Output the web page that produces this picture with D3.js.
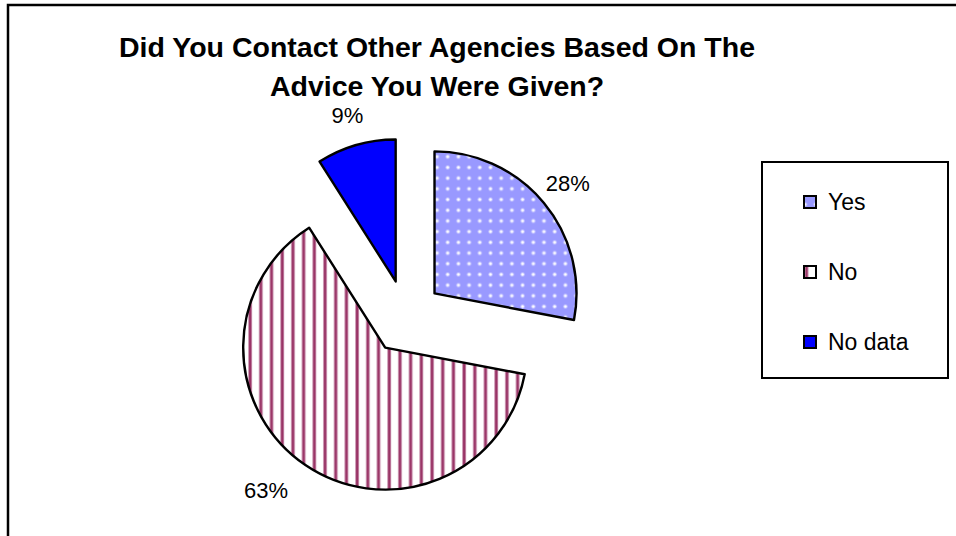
<!DOCTYPE html>
<html>
<head>
<meta charset="utf-8">
<script src="https://cdn.jsdelivr.net/npm/d3@7"></script>
<style>
  html, body { margin: 0; padding: 0; background: #fff; }
  svg { display: block; font-family: "Liberation Sans", Arial, sans-serif; }
</style>
</head>
<body>
<svg id="chart" width="956" height="536"></svg>
<script>
// Survey answers and their shares (percent)
const categories = ["Yes", "No", "No data"];
const shares = [28, 63, 9];
const titleLines = ["Did You Contact Other Agencies Based On The", "Advice You Were Given?"];
const fills = ["url(#dots)", "url(#stripes)", "#0000ff"];

const svg = d3.select("#chart");
const defs = svg.append("defs");

// Dotted lavender fill
const dots = defs.append("pattern")
  .attr("id", "dots").attr("patternUnits", "userSpaceOnUse")
  .attr("width", 10.7).attr("height", 10.7);
dots.append("rect").attr("width", 10.7).attr("height", 10.7).attr("fill", "#9999ff");
dots.append("circle").attr("cx", 2.5).attr("cy", 2.5).attr("r", 2.2).attr("fill", "#c4c4ff");
dots.append("circle").attr("cx", 2.5).attr("cy", 2.5).attr("r", 1.2).attr("fill", "#ffffff");

// Vertical plum stripes on white
const stripes = defs.append("pattern")
  .attr("id", "stripes").attr("patternUnits", "userSpaceOnUse")
  .attr("width", 10.7).attr("height", 10.7);
stripes.append("rect").attr("width", 10.7).attr("height", 10.7).attr("fill", "#ffffff");
stripes.append("rect").attr("x", 2).attr("width", 4).attr("height", 10.7).attr("fill", "#cc99b3");
stripes.append("rect").attr("x", 3).attr("width", 2.2).attr("height", 10.7).attr("fill", "#993366");

// Chart area frame
svg.append("rect")
  .attr("x", 8).attr("y", 5).attr("width", 1000).attr("height", 600)
  .attr("fill", "none").attr("stroke", "#000").attr("stroke-width", 2.5);

// Title
svg.append("text")
  .attr("x", 437).attr("y", 57)
  .attr("text-anchor", "middle")
  .attr("font-size", 28.5).attr("font-weight", "bold")
  .selectAll("tspan").data(titleLines).join("tspan")
  .attr("x", 437).attr("dy", (d, i) => i === 0 ? 0 : 39)
  .text(d => d);

// Pie
const cx = 406, cy = 317, radius = 142, explode = 37, labelR = 173;
const pie = d3.pie().sort(null).value(d => d.v);
const arcs = pie(categories.map((c, i) => ({ c, v: shares[i], fill: fills[i] })));
const arc = d3.arc().innerRadius(0).outerRadius(radius);

const g = svg.append("g").attr("transform", `translate(${cx},${cy})`);
const slice = g.selectAll("g.slice").data(arcs).join("g")
  .attr("class", "slice")
  .attr("transform", d => {
    const a = (d.startAngle + d.endAngle) / 2;
    return `translate(${explode * Math.sin(a)},${-explode * Math.cos(a)})`;
  });

slice.append("path")
  .attr("d", arc)
  .attr("fill", d => d.data.fill)
  .attr("stroke", "#000").attr("stroke-width", 2.4).attr("stroke-linejoin", "round");

slice.append("text")
  .attr("x", d => labelR * Math.sin((d.startAngle + d.endAngle) / 2))
  .attr("y", d => -labelR * Math.cos((d.startAngle + d.endAngle) / 2))
  .attr("dy", "0.35em")
  .attr("text-anchor", d => {
    const s = Math.sin((d.startAngle + d.endAngle) / 2);
    return s < -0.5 ? "end" : (s > 0.85 ? "start" : "middle");
  })
  .attr("font-size", 22).attr("fill", "#000")
  .text(d => d.data.v + "%");

// Legend
const legend = svg.append("g");
legend.append("rect")
  .attr("x", 762).attr("y", 162).attr("width", 186).attr("height", 216)
  .attr("fill", "#fff").attr("stroke", "#000").attr("stroke-width", 2);

const legendY = d3.scalePoint().domain(categories).range([202, 342]);
const item = legend.selectAll("g.item").data(categories.map((c, i) => ({ c, fill: fills[i] })))
  .join("g").attr("class", "item")
  .attr("transform", d => `translate(0,${legendY(d.c)})`);
item.append("rect")
  .attr("x", 804).attr("y", -6).attr("width", 12).attr("height", 12)
  .attr("fill", d => d.fill).attr("stroke", "#000").attr("stroke-width", 2);
item.append("text")
  .attr("x", 828).attr("y", 0).attr("dy", "0.35em")
  .attr("font-size", 23).attr("fill", "#000")
  .text(d => d.c);
</script>
</body>
</html>
